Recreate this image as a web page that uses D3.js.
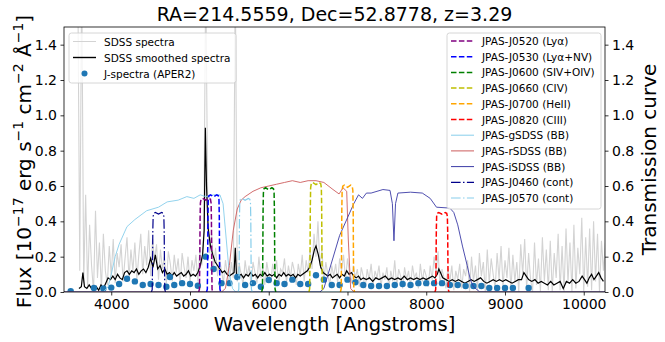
<!DOCTYPE html>
<html>
<head>
<meta charset="utf-8">
<script src="https://cdn.jsdelivr.net/npm/d3@7"></script>
<style>
  body { margin: 0; background: #fff; }
  text { font-family: "DejaVu Sans", sans-serif; }
</style>
</head>
<body>
<div id="chart"></div>
<script>
// ---- data ----
// SDSS spectrum (raw), sampled every 25 A starting at 3575 A
const sdssStart = 3575, sdssStep = 25;
const sdssFlux = [
  1.8, 0.12, 1.8, 0.05, 0.55, 0.02, 0.38, 0.15, 0.00, 0.46, 0.08, 0.28, 0.01, 0.33, 0.12, 0.04, 0.26, 0.09, 0.30, 0.05,
  0.22, 0.14, 0.27, 0.06, 0.19, 0.31, 0.08, 0.24, 0.12, 0.28, 0.07, 0.21, 0.33, 0.10, 0.26, 0.15, 0.35, 0.09, 0.30, 0.18,
  0.27, 0.07, 0.24, 0.13, 0.20, 0.05, 0.23, 0.16, 0.06, 0.21, 0.11, 0.19, 0.04, 0.22, 0.14, 0.08, 0.20, 0.05, 0.18, 0.12,
  0.21, 0.06, 0.24, 0.15, 0.34, 1.8, 0.50, 0.22, 0.33, 0.14, 0.25, 0.09, 0.19, 0.12, 0.05, 0.18, 0.10, 0.04, 0.17, 0.08,
  1.8, 0.06, 0.16, 0.10, 0.04, 0.18, 0.09, 0.15, 0.03, 0.17, 0.11, 0.05, 0.20, 0.08, 0.14, 0.04, 0.17, 0.10, 0.05, 0.16,
  0.09, 0.18, 0.04, 0.13, 0.11, 0.19, 0.05, 0.15, 0.08, 0.17, 0.12, 0.04, 0.16, 0.09, 0.21, 0.06, 0.18, 0.11, 0.24, 0.13,
  0.33, 0.20, 0.40, 0.15, 0.24, 0.07, 0.17, 0.10, 0.04, 0.15, 0.09, 0.16, 0.05, 0.19, 0.12, 0.21, 0.07, 0.19, 0.11, 0.05,
  0.15, 0.08, 0.13, 0.03, 0.14, 0.09, 0.02, 0.13, 0.07, 0.16, 0.04, 0.12, 0.08, 0.15, 0.03, 0.11, 0.07, 0.14, 0.02, 0.12,
  0.06, 0.18, 0.03, 0.13, 0.09, 0.02, 0.14, 0.07, 0.12, 0.03, 0.15, 0.08, 0.11, 0.02, 0.16, 0.06, 0.13, 0.09, 0.03, 0.15,
  0.07, 0.20, 0.10, 0.23, 0.04, 0.13, 0.08, 0.02, 0.14, 0.06, 0.15, 0.01, 0.12, 0.07, 0.16, 0.02, 0.13, 0.09, 0.18, 0.00,
  0.20, 0.06, 0.15, 0.01, 0.22, 0.09, 0.17, 0.00, 0.24, 0.05, 0.19, 0.10, 0.02, 0.22, 0.07, 0.26, 0.03, 0.18, 0.08, 0.25,
  0.01, 0.21, 0.06, 0.17, 0.00, 0.27, 0.10, 0.30, 0.02, 0.22, 0.07, 0.00, 0.28, 0.04, 0.19, 0.00, 0.31, 0.06, 0.24, 0.01,
  0.29, 0.00, 0.22, 0.08, 0.33, 0.01, 0.26, 0.00, 0.36, 0.05, 0.28, 0.00, 0.38, 0.02, 0.25, 0.10, 0.42, 0.00, 0.31, 0.03,
  0.36, 0.01, 0.40, 0.06, 0.33, 0.00, 0.29, 0.12, 0.28
];

// SDSS smoothed spectrum [wavelength, flux]
const smoothSpec = [
  [3590, 0.02], [3620, 0.03], [3640, 0.11], [3660, 0.03], [3690, 0.02], [3720, 0.04], [3750, 0.02], [3780, 0.01],
  [3810, 0.03], [3840, 0.01], [3870, 0.04], [3900, 0.02], [3930, 0.05], [3960, 0.08], [3990, 0.07], [4020, 0.09],
  [4050, 0.07], [4080, 0.10], [4110, 0.08], [4140, 0.07], [4170, 0.11], [4200, 0.12], [4230, 0.10], [4260, 0.12],
  [4290, 0.11], [4320, 0.13], [4350, 0.10], [4380, 0.12], [4410, 0.13], [4440, 0.11], [4470, 0.14], [4500, 0.19],
  [4530, 0.14], [4560, 0.21], [4590, 0.13], [4620, 0.15], [4650, 0.11], [4680, 0.13], [4710, 0.10], [4740, 0.11],
  [4770, 0.09], [4800, 0.11], [4830, 0.09], [4860, 0.10], [4890, 0.11], [4920, 0.09], [4950, 0.10], [4980, 0.12],
  [5010, 0.09], [5040, 0.10], [5070, 0.09], [5100, 0.11], [5130, 0.15], [5160, 0.21], [5180, 0.35], [5195, 0.93],
  [5210, 0.60], [5230, 0.36], [5260, 0.26], [5290, 0.21], [5320, 0.17], [5350, 0.15], [5380, 0.13], [5410, 0.11],
  [5440, 0.12], [5470, 0.10], [5500, 0.09], [5530, 0.10], [5560, 0.11], [5575, 0.25], [5590, 0.10], [5620, 0.09],
  [5650, 0.10], [5680, 0.08], [5710, 0.10], [5740, 0.09], [5770, 0.11], [5800, 0.09], [5830, 0.10], [5860, 0.08],
  [5890, 0.10], [5920, 0.09], [5950, 0.11], [5980, 0.09], [6010, 0.10], [6040, 0.09], [6070, 0.10], [6100, 0.08],
  [6130, 0.10], [6160, 0.09], [6190, 0.11], [6220, 0.09], [6250, 0.10], [6280, 0.09], [6310, 0.10], [6340, 0.08],
  [6370, 0.10], [6400, 0.09], [6430, 0.10], [6460, 0.11], [6490, 0.12], [6520, 0.14], [6550, 0.18], [6580, 0.24],
  [6600, 0.26], [6630, 0.21], [6660, 0.14], [6690, 0.11], [6720, 0.10], [6750, 0.09], [6780, 0.10], [6810, 0.08],
  [6840, 0.09], [6870, 0.10], [6900, 0.08], [6930, 0.10], [6960, 0.09], [6990, 0.12], [7020, 0.10], [7050, 0.11],
  [7080, 0.09], [7110, 0.08], [7140, 0.09], [7170, 0.07], [7200, 0.08], [7240, 0.07], [7280, 0.08], [7320, 0.06],
  [7360, 0.08], [7400, 0.07], [7440, 0.08], [7480, 0.09], [7520, 0.07], [7560, 0.08], [7600, 0.07], [7640, 0.08],
  [7680, 0.07], [7720, 0.09], [7760, 0.07], [7800, 0.08], [7840, 0.07], [7880, 0.08], [7920, 0.07], [7960, 0.08],
  [8000, 0.07], [8040, 0.08], [8080, 0.09], [8110, 0.08], [8140, 0.10], [8160, 0.13], [8180, 0.11], [8210, 0.08],
  [8250, 0.07], [8290, 0.06], [8330, 0.07], [8370, 0.06], [8410, 0.07], [8450, 0.06], [8490, 0.05], [8530, 0.06],
  [8570, 0.07], [8610, 0.06], [8650, 0.07], [8690, 0.08], [8730, 0.06], [8770, 0.05], [8810, 0.06], [8850, 0.07],
  [8890, 0.06], [8930, 0.07], [8970, 0.06], [9010, 0.07], [9050, 0.06], [9090, 0.05], [9130, 0.06], [9170, 0.07],
  [9210, 0.07], [9240, 0.11], [9270, 0.09], [9300, 0.07], [9340, 0.06], [9380, 0.07], [9420, 0.05], [9460, 0.06],
  [9500, 0.05], [9540, 0.04], [9580, 0.06], [9620, 0.04], [9660, 0.05], [9700, 0.06], [9740, 0.02], [9780, 0.06],
  [9820, 0.05], [9860, 0.07], [9900, 0.05], [9940, 0.06], [9980, 0.09], [10010, 0.07], [10040, 0.05], [10070, 0.08],
  [10100, 0.10], [10130, 0.07], [10160, 0.09], [10190, 0.11], [10220, 0.08], [10250, 0.06]
];

// J-spectra photometry (APER2)
const jWave = [3485, 3780, 3900, 4000, 4100, 4200, 4300, 4400, 4500, 4600, 4700, 4745, 4800, 4900, 5000, 5100,
  5200, 5300, 5400, 5500, 5600, 5700, 5800, 5900, 6000, 6100, 6200, 6300, 6400, 6500, 6600, 6700, 6800, 6900,
  7000, 7100, 7200, 7300, 7400, 7500, 7600, 7700, 7800, 7900, 8000, 8100, 8200, 8300, 8400, 8500, 8600, 8700,
  8800, 8900, 9000, 9100, 9300];
const jFlux = [0.005, 0.023, 0.02, 0.025, 0.045, 0.075, 0.06, 0.04, 0.045, 0.04, 0.03, 0.085, 0.04, 0.05, 0.045, 0.035,
  0.20, 0.13, 0.05, 0.05, 0.085, 0.04, 0.05, 0.03, 0.068, 0.05, 0.045, 0.07, 0.045, 0.045, 0.095, 0.07, 0.04, 0.04,
  0.07, 0.055, 0.04, 0.034, 0.034, 0.034, 0.04, 0.045, 0.04, 0.05, 0.05, 0.05, 0.05, 0.04, 0.04, 0.034, 0.034, 0.034,
  0.023, 0.023, 0.023, 0.023, 0.023];

// narrow-band filters: shared profile shape (offset in A, relative transmission)
const profileOffset = [-90, -80, -76, -72, -68, -60, -40, 0, 40, 60, 68, 72, 76, 80, 90];
const profileShape  = [0, 0.03, 0.3, 0.78, 0.95, 0.99, 1.0, 0.98, 1.0, 0.99, 0.95, 0.78, 0.3, 0.03, 0];
const narrowNames   = ["JPAS-J0520 (Lyα)", "JPAS-J0530 (Lyα+NV)", "JPAS-J0600 (SIV+OIV)", "JPAS-J0660 (CIV)",
                       "JPAS-J0700 (HeII)", "JPAS-J0820 (CIII)"];
const narrowCenters = [5200, 5300, 6000, 6600, 7000, 8200];
const narrowPeaks   = [0.53, 0.55, 0.59, 0.62, 0.605, 0.45];

const contNames   = ["JPAS-J0460 (cont)", "JPAS-J0570 (cont)"];
const contCenters = [4600, 5700];
const contPeaks   = [0.45, 0.53];

// broad-band SDSS filters
const gWave  = [3400, 3900, 3960, 4000, 4050, 4100, 4200, 4300, 4450, 4600, 4710, 4850, 4960, 5050, 5130, 5200, 5300, 5380, 5420, 5460, 5500, 5540, 5580, 10270];
const gTrans = [0, 0, 0.03, 0.1, 0.2, 0.27, 0.37, 0.41, 0.46, 0.48, 0.51, 0.52, 0.54, 0.53, 0.55, 0.54, 0.55, 0.55, 0.5, 0.3, 0.1, 0.02, 0, 0];
const rWave  = [3400, 5400, 5450, 5500, 5550, 5600, 5650, 5700, 5800, 5900, 6000, 6100, 6200, 6300, 6400, 6500, 6600, 6700, 6816, 6893, 6943, 6990, 7010, 7040, 7080, 10270];
const rTrans = [0, 0, 0.02, 0.15, 0.35, 0.47, 0.52, 0.54, 0.57, 0.59, 0.6, 0.61, 0.62, 0.63, 0.62, 0.63, 0.63, 0.62, 0.58, 0.555, 0.59, 0.57, 0.3, 0.02, 0, 0];
const iWave  = [3400, 6650, 6700, 6800, 6900, 7000, 7080, 7140, 7190, 7240, 7300, 7450, 7540, 7570, 7590, 7610, 7640, 7800, 7950, 8050, 8130, 8300, 8350, 8400, 8460, 8520, 8560, 8600, 8680, 10270];
const iTrans = [0, 0, 0.02, 0.17, 0.32, 0.42, 0.5, 0.55, 0.53, 0.56, 0.56, 0.58, 0.575, 0.5, 0.29, 0.5, 0.56, 0.565, 0.56, 0.53, 0.48, 0.475, 0.45, 0.38, 0.26, 0.15, 0.07, 0.03, 0, 0];

const xTicks = [4000, 5000, 6000, 7000, 8000, 9000, 10000];
const yTicks = [0, 0.2, 0.4, 0.6, 0.8, 1.0, 1.2, 1.4];

// ---- styles ----
const narrowColors = ["#800080", "#0000ff", "#008000", "#bfbf00", "#ffa500", "#ff0000"];
const contColors = ["#00008b", "#87ceeb"];
const dash = "5.5,2.4", dashdot = "9.6,2.4,1.5,2.4";
const font = '"DejaVu Sans", sans-serif';

// ---- layout ----
const W = 665, H = 342;
const m = {left: 64, right: 605, top: 27, bottom: 292};

const x = d3.scaleLinear().domain([3400, 10270]).range([m.left, m.right]);
const y = d3.scaleLinear().domain([0, 1.5]).range([m.bottom, m.top]);
const yT = d3.scaleLinear().domain([0, 1.5]).range([m.bottom, m.top]);

const svg = d3.select("#chart").append("svg")
    .attr("width", W).attr("height", H)
    .style("display", "block");

svg.append("defs").append("clipPath").attr("id", "plotArea")
  .append("rect")
    .attr("x", m.left).attr("y", m.top)
    .attr("width", m.right - m.left).attr("height", m.bottom - m.top);

const line = d3.line().x(d => x(d[0])).y(d => y(d[1]));
const lineT = d3.line().x(d => x(d[0])).y(d => yT(d[1]));

const ax1 = svg.append("g").attr("clip-path", "url(#plotArea)");

// raw spectrum
const sdss = sdssFlux.map((f, i) => [sdssStart + i * sdssStep, f]);
ax1.append("path").datum(sdss)
    .attr("d", line).attr("fill", "none")
    .attr("stroke", "#d3d3d3").attr("stroke-width", 1.1);

// smoothed spectrum
ax1.append("path").datum(smoothSpec)
    .attr("d", line).attr("fill", "none")
    .attr("stroke", "#000").attr("stroke-width", 1.2);

// photometry
ax1.selectAll("circle.jspec")
  .data(d3.zip(jWave, jFlux))
  .join("circle")
    .attr("class", "jspec")
    .attr("cx", d => x(d[0])).attr("cy", d => y(d[1]))
    .attr("r", 3.2).attr("fill", "#1f77b4");

// left legend
function legendBox(g, x0, y0, w, h) {
  g.append("rect").attr("x", x0).attr("y", y0).attr("width", w).attr("height", h)
    .attr("rx", 2.5).attr("fill", "#fff").attr("fill-opacity", 0.8)
    .attr("stroke", "#cccccc").attr("stroke-width", 0.8);
}
const leg1 = svg.append("g");
legendBox(leg1, 69, 33, 167, 50);
const leg1Items = [
  {name: "SDSS spectra", kind: "line", color: "#d3d3d3", w: 1},
  {name: "SDSS smoothed spectra", kind: "line", color: "#000", w: 1.4},
  {name: "J-spectra (APER2)", kind: "dot", color: "#1f77b4"}
];
leg1Items.forEach((it, i) => {
  const cy = 41.5 + i * 16;
  if (it.kind === "line") {
    leg1.append("line").attr("x1", 73).attr("x2", 96).attr("y1", cy).attr("y2", cy)
      .attr("stroke", it.color).attr("stroke-width", it.w);
  } else {
    leg1.append("circle").attr("cx", 84.5).attr("cy", cy).attr("r", 3).attr("fill", it.color);
  }
  leg1.append("text").attr("x", 104).attr("y", cy).attr("dominant-baseline", "central")
    .attr("font-size", 10.5).attr("fill", "#000").text(it.name);
});

// ---- twin axis: transmission curves ----
const ax2 = svg.append("g").attr("clip-path", "url(#plotArea)");

ax2.append("path").datum(d3.zip(gWave, gTrans)).attr("d", lineT).attr("fill", "none")
  .attr("stroke", "#87ceeb").attr("stroke-width", 0.9);
ax2.append("path").datum(d3.zip(rWave, rTrans)).attr("d", lineT).attr("fill", "none")
  .attr("stroke", "#cd5c5c").attr("stroke-width", 0.9);
ax2.append("path").datum(d3.zip(iWave, iTrans)).attr("d", lineT).attr("fill", "none")
  .attr("stroke", "#3b3ba6").attr("stroke-width", 0.9);

narrowCenters.forEach((c, k) => {
  const pts = profileOffset.map((o, j) => [c + o, profileShape[j] * narrowPeaks[k]]);
  ax2.append("path").datum(pts).attr("d", lineT).attr("fill", "none")
    .attr("stroke", narrowColors[k]).attr("stroke-width", 1.5)
    .attr("stroke-dasharray", dash);
});
contCenters.forEach((c, k) => {
  const pts = profileOffset.map((o, j) => [c + o, profileShape[j] * contPeaks[k]]);
  ax2.append("path").datum(pts).attr("d", lineT).attr("fill", "none")
    .attr("stroke", contColors[k]).attr("stroke-width", 1.2)
    .attr("stroke-dasharray", dashdot);
});

// ---- axes ----
svg.append("rect")
    .attr("x", m.left).attr("y", m.top)
    .attr("width", m.right - m.left).attr("height", m.bottom - m.top)
    .attr("fill", "none").attr("stroke", "#000").attr("stroke-width", 0.8);

function styleAxis(g) {
  g.select(".domain").remove();
  g.selectAll(".tick line").attr("stroke", "#000").attr("stroke-width", 0.8);
  g.selectAll(".tick text").attr("font-size", 14).attr("font-family", font).attr("fill", "#000");
}

svg.append("g").attr("transform", `translate(0,${m.bottom})`)
  .call(d3.axisBottom(x).tickValues(xTicks).tickSize(3.5).tickPadding(3.5).tickFormat(d3.format("d")))
  .call(styleAxis);
svg.append("g").attr("transform", `translate(${m.left},0)`)
  .call(d3.axisLeft(y).tickValues(yTicks).tickSize(3.5).tickPadding(3.5).tickFormat(d3.format(".1f")))
  .call(styleAxis);
svg.append("g").attr("transform", `translate(${m.right},0)`)
  .call(d3.axisRight(yT).tickValues(yTicks).tickSize(3.5).tickPadding(3.5).tickFormat(d3.format(".1f")))
  .call(styleAxis);

// right legend
const leg2 = svg.append("g");
legendBox(leg2, 447, 33, 154, 176);
const leg2Items = narrowNames.map((n, k) => ({name: n, color: narrowColors[k], dash: dash, w: 1.5}))
  .concat([
    {name: "JPAS-gSDSS (BB)", color: "#87ceeb", dash: null, w: 1},
    {name: "JPAS-rSDSS (BB)", color: "#cd5c5c", dash: null, w: 1},
    {name: "JPAS-iSDSS (BB)", color: "#3b3ba6", dash: null, w: 1}
  ])
  .concat(contNames.map((n, k) => ({name: n, color: contColors[k], dash: dashdot, w: 1.2})));
leg2Items.forEach((it, i) => {
  const cy = 41 + i * 15.7;
  leg2.append("line").attr("x1", 451).attr("x2", 474).attr("y1", cy).attr("y2", cy)
    .attr("stroke", it.color).attr("stroke-width", it.w)
    .attr("stroke-dasharray", it.dash);
  leg2.append("text").attr("x", 482).attr("y", cy).attr("dominant-baseline", "central")
    .attr("font-size", 10.5).attr("fill", "#000").text(it.name);
});

// ---- titles and labels ----
svg.append("text").attr("x", (m.left + m.right) / 2).attr("y", 21)
  .attr("text-anchor", "middle").attr("font-size", 19).attr("fill", "#000")
  .text("RA=214.5559, Dec=52.8778, z=3.29");

svg.append("text").attr("x", (m.left + m.right) / 2).attr("y", 331)
  .attr("text-anchor", "middle").attr("font-size", 19.5).attr("fill", "#000")
  .text("Wavelength [Angstroms]");

const yl = svg.append("text")
  .attr("transform", `translate(31,${(m.top + m.bottom) / 2 + 2}) rotate(-90)`)
  .attr("text-anchor", "middle").attr("font-size", 20).attr("fill", "#000");
[["Flux [10", 0], ["−17", 1], [" erg s", 0], ["−1", 1], [" cm", 0], ["−2", 1], [" Å", 0], ["−1", 1], ["]", 0]]
  .forEach(([t, sup], i, arr) => {
    const prevSup = i > 0 && arr[i - 1][1];
    const ts = yl.append("tspan").text(t);
    if (sup) ts.attr("font-size", 14).attr("dy", -8);
    else if (prevSup) ts.attr("dy", 8);
  });

svg.append("text")
  .attr("transform", `translate(656,${(m.top + m.bottom) / 2}) rotate(-90)`)
  .attr("text-anchor", "middle").attr("font-size", 20).attr("fill", "#000")
  .text("Transmission curve");
</script>
</body>
</html>
